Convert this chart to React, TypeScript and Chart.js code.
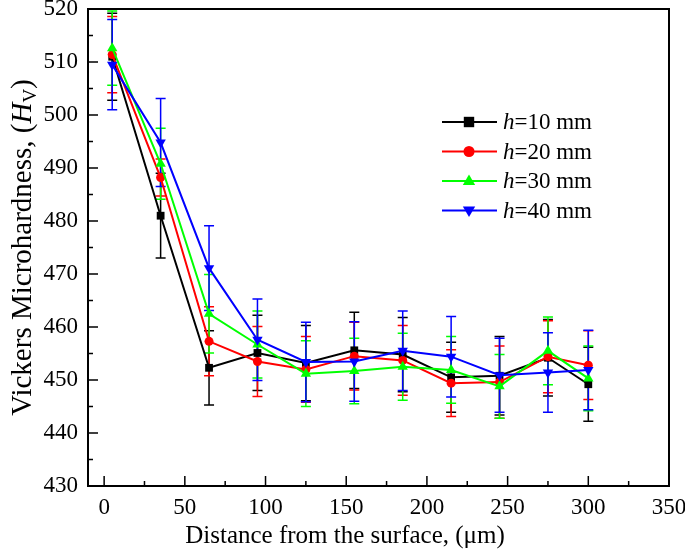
import React, { useEffect, useRef } from 'react';
import { Chart, registerables } from 'chart.js';

Chart.register(...registerables);

// ---------- data ----------
const distances = [5, 35, 65, 95, 125, 155, 185, 215, 245, 275, 300];

const h10 = [511.0, 481.0, 452.3, 455.1, 453.2, 455.6, 454.8, 450.5, 450.8, 454.2, 449.2];
const h10Err = [8.2, 8.0, 7.0, 7.1, 7.1, 7.2, 7.0, 6.6, 7.4, 7.2, 7.0];

const h20 = [511.4, 488.2, 457.3, 453.5, 452.0, 454.5, 453.7, 449.4, 449.6, 454.4, 452.8];
const h20Err = [7.2, 3.5, 6.5, 6.6, 6.2, 6.4, 6.6, 6.3, 6.8, 6.8, 6.5];

const h30 = [512.6, 490.8, 462.5, 456.7, 451.2, 451.7, 452.5, 451.9, 448.8, 455.5, 450.3];
const h30Err = [7.0, 6.7, 7.4, 6.3, 6.2, 6.2, 6.3, 6.3, 6.0, 6.4, 6.1];

const h40 = [509.5, 494.8, 471.1, 457.6, 453.4, 453.5, 455.5, 454.4, 450.9, 451.4, 451.9];
const h40Err = [8.5, 8.3, 8.0, 7.7, 7.5, 7.5, 7.5, 7.6, 7.0, 7.5, 7.5];

const seriesNames = ['10 mm', '20 mm', '30 mm', '40 mm'];
const xTickValues = [0, 50, 100, 150, 200, 250, 300, 350];
const xMinorValues = [25, 75, 125, 175, 225, 275, 325];
const yTickValues = [430, 440, 450, 460, 470, 480, 490, 500, 510, 520];
const yMinorValues = [435, 445, 455, 465, 475, 485, 495, 505, 515];

const xTitle = 'Distance from the surface, (\u03bcm)';
const yTitleMain = 'Vickers Microhardness, (';
const yTitleSym = 'H';
const yTitleSub = 'V';
const yTitleEnd = ')';

// ---------- styles ----------
const FONT = '"Liberation Serif", "Times New Roman", serif';
const colors = ['#000000', '#ff0000', '#00ff00', '#0000ff'];
const markers = ['rect', 'circle', 'triangle', 'triangleDown'];

const seriesValues = [h10, h20, h30, h40];
const seriesErrors = [h10Err, h20Err, h30Err, h40Err];

function drawMarker(ctx: CanvasRenderingContext2D, kind: string, x: number, y: number, r: number, color: string) {
  ctx.save();
  ctx.fillStyle = color;
  ctx.beginPath();
  if (kind === 'rect') {
    const s = r * 0.8;
    ctx.rect(x - s, y - s, 2 * s, 2 * s);
  } else if (kind === 'circle') {
    ctx.arc(x, y, r * 0.85, 0, Math.PI * 2);
  } else if (kind === 'triangle') {
    ctx.moveTo(x, y - r);
    ctx.lineTo(x + r * 0.95, y + r * 0.6);
    ctx.lineTo(x - r * 0.95, y + r * 0.6);
    ctx.closePath();
  } else {
    ctx.moveTo(x, y + r);
    ctx.lineTo(x + r * 0.95, y - r * 0.6);
    ctx.lineTo(x - r * 0.95, y - r * 0.6);
    ctx.closePath();
  }
  ctx.fill();
  ctx.restore();
}

const errorBarPlugin = {
  id: 'errorBars',
  beforeDatasetsDraw(chart: any) {
    const ctx = chart.ctx as CanvasRenderingContext2D;
    const xs = chart.scales.x;
    const ys = chart.scales.y;
    ctx.save();
    ctx.lineWidth = 1.5;
    seriesValues.forEach((vals, si) => {
      ctx.strokeStyle = colors[si];
      vals.forEach((v, j) => {
        const e = seriesErrors[si][j];
        const px = xs.getPixelForValue(distances[j]);
        const pt = ys.getPixelForValue(v + e);
        const pb = ys.getPixelForValue(v - e);
        ctx.beginPath();
        ctx.moveTo(px, pt);
        ctx.lineTo(px, pb);
        ctx.moveTo(px - 5, pt);
        ctx.lineTo(px + 5, pt);
        ctx.moveTo(px - 5, pb);
        ctx.lineTo(px + 5, pb);
        ctx.stroke();
      });
    });
    ctx.restore();
  },
};

const decorPlugin = {
  id: 'decor',
  afterDraw(chart: any) {
    const ctx = chart.ctx as CanvasRenderingContext2D;
    const { left, right, top, bottom } = chart.chartArea;
    const xs = chart.scales.x;
    const ys = chart.scales.y;
    ctx.save();
    // frame
    ctx.strokeStyle = '#000';
    ctx.lineWidth = 2;
    ctx.strokeRect(left, top, right - left, bottom - top);
    // ticks (inward)
    ctx.lineWidth = 1.5;
    ctx.beginPath();
    xTickValues.forEach((v) => {
      const p = xs.getPixelForValue(v);
      ctx.moveTo(p, bottom);
      ctx.lineTo(p, bottom - 10);
    });
    xMinorValues.forEach((v) => {
      const p = xs.getPixelForValue(v);
      ctx.moveTo(p, bottom);
      ctx.lineTo(p, bottom - 5);
    });
    yTickValues.forEach((v) => {
      const p = ys.getPixelForValue(v);
      ctx.moveTo(left, p);
      ctx.lineTo(left + 10, p);
    });
    yMinorValues.forEach((v) => {
      const p = ys.getPixelForValue(v);
      ctx.moveTo(left, p);
      ctx.lineTo(left + 5, p);
    });
    ctx.stroke();

    // x title
    ctx.fillStyle = '#000';
    ctx.font = `25px ${FONT}`;
    ctx.textAlign = 'center';
    ctx.textBaseline = 'alphabetic';
    ctx.fillText(xTitle, 345, 543);

    // y title (rotated, mixed styles)
    ctx.save();
    ctx.translate(31, (top + bottom) / 2);
    ctx.rotate(-Math.PI / 2);
    ctx.textAlign = 'left';
    const fMain = `29px ${FONT}`;
    const fIt = `italic 29px ${FONT}`;
    const fSub = `19px ${FONT}`;
    ctx.font = fMain;
    const w1 = ctx.measureText(yTitleMain).width;
    ctx.font = fIt;
    const w2 = ctx.measureText(yTitleSym).width;
    ctx.font = fSub;
    const w3 = ctx.measureText(yTitleSub).width;
    ctx.font = fMain;
    const w4 = ctx.measureText(yTitleEnd).width;
    let cx = -(w1 + w2 + w3 + w4) / 2;
    ctx.font = fMain;
    ctx.fillText(yTitleMain, cx, 0);
    cx += w1;
    ctx.font = fIt;
    ctx.fillText(yTitleSym, cx, 0);
    cx += w2;
    ctx.font = fSub;
    ctx.fillText(yTitleSub, cx, 5);
    cx += w3;
    ctx.font = fMain;
    ctx.fillText(yTitleEnd, cx, 0);
    ctx.restore();

    // legend
    const rowY = [122, 151.5, 181, 210.5];
    ctx.textBaseline = 'middle';
    ctx.textAlign = 'left';
    seriesNames.forEach((name, i) => {
      const y = rowY[i];
      ctx.strokeStyle = colors[i];
      ctx.lineWidth = 2;
      ctx.beginPath();
      ctx.moveTo(442, y);
      ctx.lineTo(497, y);
      ctx.stroke();
      drawMarker(ctx, markers[i], 469, y, 6.5, colors[i]);
      ctx.fillStyle = '#000';
      ctx.font = `italic 23px ${FONT}`;
      ctx.fillText('h', 503, y + 1);
      const wh = ctx.measureText('h').width;
      ctx.font = `23px ${FONT}`;
      ctx.fillText('=' + name, 503 + wh, y + 1);
    });
    ctx.restore();
  },
};

export default function App() {
  const ref = useRef<HTMLCanvasElement | null>(null);

  useEffect(() => {
    document.body.style.margin = '0';
    const canvas = ref.current;
    if (!canvas) return;
    const pointStyles: any[] = ['rect', 'circle', 'triangle', 'triangle'];
    const rotations = [0, 0, 0, 180];
    const radii = [5.5, 4.5, 6, 6];
    const datasets = seriesValues.map((vals, i) => ({
      label: 'h=' + seriesNames[i],
      data: vals.map((v, j) => ({ x: distances[j], y: v })),
      borderColor: colors[i],
      backgroundColor: colors[i],
      borderWidth: 2,
      pointStyle: pointStyles[i],
      rotation: rotations[i],
      pointRadius: radii[i],
      pointBorderWidth: 0,
      pointBackgroundColor: colors[i],
      showLine: true,
      order: 4 - i,
      clip: false as any,
    }));

    const chart = new Chart(canvas, {
      type: 'scatter',
      data: { datasets },
      plugins: [errorBarPlugin, decorPlugin],
      options: {
        animation: false,
        responsive: true,
        maintainAspectRatio: false,
        layout: { padding: { left: 0, top: 9, right: 16, bottom: 0 } },
        plugins: {
          legend: { display: false },
          tooltip: { enabled: false },
          title: { display: false },
        },
        scales: {
          x: {
            type: 'linear',
            min: -10,
            max: 350,
            grid: { display: false, drawTicks: false },
            border: { display: false },
            afterBuildTicks: (scale: any) => {
              scale.ticks = xTickValues.map((v) => ({ value: v }));
            },
            afterFit: (scale: any) => {
              scale.height = 66;
              scale.paddingLeft = 0;
              scale.paddingRight = 0;
            },
            ticks: {
              color: '#000',
              font: { family: FONT, size: 23 },
              padding: 8,
              maxRotation: 0,
              autoSkip: false,
            },
          },
          y: {
            type: 'linear',
            min: 430,
            max: 520,
            grid: { display: false, drawTicks: false },
            border: { display: false },
            afterBuildTicks: (scale: any) => {
              scale.ticks = yTickValues.map((v) => ({ value: v }));
            },
            afterFit: (scale: any) => {
              scale.width = 88;
              scale.paddingTop = 0;
              scale.paddingBottom = 0;
            },
            ticks: {
              color: '#000',
              font: { family: FONT, size: 23 },
              padding: 10,
              autoSkip: false,
            },
          },
        },
      },
    });
    return () => chart.destroy();
  }, []);

  return (
    <div style={{ position: 'fixed', left: 0, top: 0, width: 685, height: 552, background: '#fff' }}>
      <canvas ref={ref} />
    </div>
  );
}
